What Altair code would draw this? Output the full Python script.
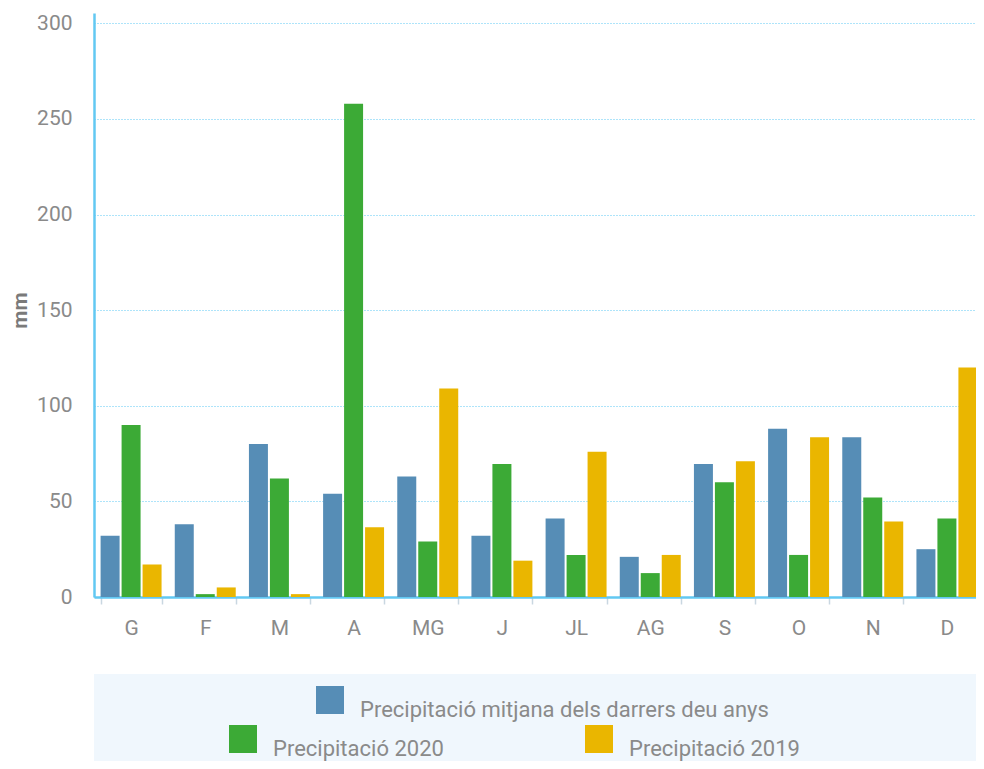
import altair as alt
import pandas as pd

months = ["G", "F", "M", "A", "MG", "J", "JL", "AG", "S", "O", "N", "D"]
series_names = [
    "Precipitació mitjana dels darrers deu anys",
    "Precipitació 2020",
    "Precipitació 2019",
]
avg_10y = [32, 38, 80, 54, 63, 32, 41, 21, 69.5, 88, 83.5, 25]
prec_2020 = [90, 1.5, 62, 258, 29, 69.5, 22, 12.5, 60, 22, 52, 41]
prec_2019 = [17, 5, 1.5, 36.5, 109, 19, 76, 22, 71, 83.5, 39.5, 120]
y_ticks = [0, 50, 100, 150, 200, 250, 300]

colors = ["#568db6", "#3caa36", "#eab600"]
label_color = "#8a8a8a"
axis_blue = "#62c8f2"
legend_bg = "#f0f7fd"
FONT = "Roboto"

rows = []
for name, vals in zip(series_names, [avg_10y, prec_2020, prec_2019]):
    for m, v in zip(months, vals):
        rows.append({"month": m, "series": name, "value": v})
df = pd.DataFrame(rows)

W, H = 890, 584

x_enc = alt.X(
    "month:N",
    sort=months,
    scale=alt.Scale(paddingInner=0.178, paddingOuter=0.089),
    axis=alt.Axis(
        title=None,
        labelAngle=0,
        tickBand="extent",
        tickSize=7,
        tickWidth=1.5,
        tickColor="#c9d7e1",
        labelPadding=13,
        labelFontSize=21,
        labelFont=FONT,
        labelColor=label_color,
        domainColor=axis_blue,
        domainWidth=2.5,
        grid=False,
    ),
)
y_enc = alt.Y(
    "value:Q",
    scale=alt.Scale(domain=[0, 305.4], nice=False),
    axis=alt.Axis(
        values=y_ticks,
        title="mm",
        titleFont=FONT,
        titleFontSize=21,
        titleFontWeight="bold",
        titleColor="#7a7a7a",
        titleAngle=270,
        titleX=-64,
        titleY=297,
        titleAlign="center",
        titleBaseline="bottom",
        ticks=False,
        tickSize=0,
        labelPadding=22,
        labelFontSize=21,
        labelFont=FONT,
        labelColor=label_color,
        domainColor=axis_blue,
        domainWidth=2.5,
        grid=True,
        gridColor="#5cc8f5",
        gridDash=[1, 2],
        gridWidth=1,
    ),
)
xoff = alt.XOffset(
    "series:N",
    sort=series_names,
    scale=alt.Scale(domain=series_names, paddingInner=0.095, paddingOuter=0),
)

background = (
    alt.Chart(pd.DataFrame({"k": [0]}))
    .mark_rect(color=legend_bg)
    .encode(x=alt.value(0), x2=alt.value(W), y=alt.value(661), y2=alt.value(760))
)

legend_common = dict(
    title=None,
    orient="none",
    symbolType="square",
    symbolSize=784,
    symbolStrokeWidth=0,
    symbolOpacity=1,
    labelFont=FONT,
    labelFontSize=22,
    labelColor=label_color,
    labelLimit=600,
    labelOffset=16,
    labelBaseline="top",
    padding=0,
)

bars_avg = (
    alt.Chart(df)
    .transform_filter(alt.datum.series == series_names[0])
    .mark_bar()
    .encode(
        x=x_enc,
        y=y_enc,
        xOffset=xoff,
        color=alt.Color(
            "series:N",
            scale=alt.Scale(domain=series_names[:1], range=colors[:1]),
            legend=alt.Legend(legendX=222, legendY=673, **legend_common),
        ),
    )
)

bars_years = (
    alt.Chart(df)
    .transform_filter(alt.datum.series != series_names[0])
    .mark_bar()
    .encode(
        x=x_enc,
        y=y_enc,
        xOffset=xoff,
        color=alt.Color(
            "series:N",
            sort=series_names[1:],
            scale=alt.Scale(domain=series_names[1:], range=colors[1:]),
            legend=alt.Legend(
                legendX=135,
                legendY=712,
                direction="horizontal",
                columnPadding=141,
                **legend_common,
            ),
        ),
    )
)

chart = (
    alt.layer(background, bars_avg, bars_years)
    .resolve_scale(color="independent")
    .properties(
        width=W,
        height=H,
        padding={"left": 86, "top": 5, "right": -8, "bottom": 164},
        autosize=alt.AutoSizeParams(type="none"),
    )
    .configure_view(stroke=None)
    .configure_bar(opacity=1)
)

chart.save("out.html", embed_options={"renderer": "svg", "actions": False})
